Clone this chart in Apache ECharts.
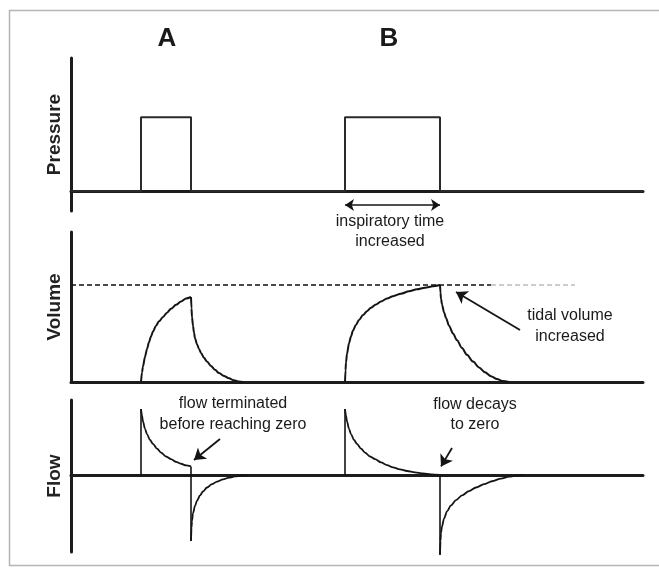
<!DOCTYPE html>
<html>
<head>
<meta charset="utf-8">
<title>Pressure, volume and flow waveforms</title>
<script src="https://cdn.jsdelivr.net/npm/echarts@6/dist/echarts.min.js"></script>
<style>
  html, body { margin: 0; padding: 0; background: #fff; }
  #chart { width: 659px; height: 568px; }
</style>
</head>
<body>
<div id="chart"></div>
<script>
// Panel titles (y-axis names) and breath labels
const panelNames = ['Pressure', 'Volume', 'Flow'];
const breathLabels = ['A', 'B'];

// Time axis (arbitrary seconds)
const timeRange = [0, 5.72];

// Breath timing: start / end of inspiration
const breathA = [0.70, 1.20];
const breathB = [2.74, 3.69];

// Pressure: square pulses (relative units)
const pressureTrace = [
  [0, 0], [0.70, 0], [0.70, 1], [1.20, 1], [1.20, 0],
  [2.74, 0], [2.74, 1], [3.69, 1], [3.69, 0], [5.72, 0]
];

// Volume (relative to the tidal volume of breath B)
const volumeAIn = [
  [0.70, 0], [0.71, 0.10], [0.72, 0.16], [0.74, 0.26], [0.76, 0.34], [0.78, 0.41],
  [0.80, 0.47], [0.82, 0.52], [0.85, 0.58], [0.88, 0.625], [0.92, 0.67],
  [0.96, 0.715], [1.00, 0.755], [1.05, 0.795], [1.10, 0.83], [1.15, 0.86], [1.20, 0.876]
];
const volumeAOut = [
  [1.20, 0.876], [1.205, 0.76], [1.21, 0.67], [1.22, 0.58], [1.23, 0.51],
  [1.24, 0.45], [1.26, 0.39], [1.28, 0.34], [1.30, 0.30], [1.33, 0.25],
  [1.36, 0.21], [1.40, 0.165], [1.44, 0.125], [1.48, 0.092], [1.53, 0.062],
  [1.58, 0.038], [1.63, 0.018], [1.68, 0.005], [1.72, 0]
];
const volumeBIn = [
  [2.74, 0], [2.745, 0.12], [2.75, 0.20], [2.76, 0.29], [2.78, 0.40], [2.80, 0.47],
  [2.82, 0.53], [2.85, 0.59], [2.88, 0.64], [2.92, 0.69], [2.96, 0.73],
  [3.00, 0.765], [3.05, 0.80], [3.10, 0.83], [3.16, 0.86], [3.22, 0.885],
  [3.30, 0.91], [3.38, 0.935], [3.46, 0.955], [3.54, 0.972], [3.62, 0.988], [3.69, 1.0]
];
const volumeBOut = [
  [3.69, 1.0], [3.695, 0.92], [3.70, 0.86], [3.71, 0.80], [3.73, 0.72],
  [3.75, 0.66], [3.78, 0.58], [3.82, 0.50], [3.86, 0.43], [3.91, 0.35],
  [3.96, 0.28], [4.02, 0.21], [4.08, 0.15], [4.14, 0.10], [4.20, 0.06],
  [4.26, 0.03], [4.32, 0.01], [4.38, 0]
];
const tidalVolume = 1.0;

// Flow (relative to peak inspiratory flow)
const flowAIn = [
  [0.70, 1.0], [0.71, 0.90], [0.72, 0.81], [0.74, 0.70], [0.76, 0.62],
  [0.79, 0.53], [0.82, 0.47], [0.86, 0.40], [0.90, 0.34], [0.95, 0.28],
  [1.00, 0.24], [1.05, 0.20], [1.10, 0.17], [1.15, 0.145], [1.20, 0.13]
];
const flowAOut = [
  [1.20, -1.0], [1.205, -0.80], [1.21, -0.70], [1.22, -0.58], [1.24, -0.47],
  [1.26, -0.39], [1.29, -0.31], [1.32, -0.25], [1.36, -0.19], [1.41, -0.14],
  [1.46, -0.10], [1.52, -0.066], [1.58, -0.04], [1.64, -0.022], [1.70, -0.01],
  [1.76, 0]
];
const flowBIn = [
  [2.74, 1.0], [2.75, 0.90], [2.76, 0.81], [2.78, 0.70], [2.80, 0.62],
  [2.83, 0.53], [2.86, 0.47], [2.90, 0.40], [2.94, 0.34], [2.99, 0.28],
  [3.04, 0.24], [3.10, 0.19], [3.16, 0.15], [3.22, 0.115], [3.29, 0.085],
  [3.36, 0.06], [3.44, 0.04], [3.52, 0.022], [3.60, 0.01], [3.69, 0]
];
const flowBOut = [
  [3.69, -1.21], [3.695, -1.0], [3.70, -0.88], [3.71, -0.78], [3.73, -0.66],
  [3.76, -0.55], [3.80, -0.46], [3.85, -0.38], [3.91, -0.31], [3.98, -0.245],
  [4.05, -0.19], [4.13, -0.14], [4.21, -0.095], [4.30, -0.055], [4.38, -0.025],
  [4.46, -0.008], [4.52, 0]
];

// Annotation texts
const noteInspTime = ['inspiratory time', 'increased'];
const noteTidal = ['tidal volume', 'increased'];
const noteFlowA = ['flow terminated', 'before reaching zero'];
const noteFlowB = ['flow decays', 'to zero'];

// ---------------------------------------------------------------
const ink = '#141414';
const axisInk = '#1c1c1c';
const fontFamily = '"Liberation Sans", Arial, Helvetica, sans-serif';

const chart = echarts.init(document.getElementById('chart'), null, { renderer: 'canvas' });

const grids = [
  { left: 71, right: 16, top: 58, height: 153 },
  { left: 71, right: 16, top: 232, height: 150 },
  { left: 71, right: 16, top: 400, height: 152 }
];
const yRanges = [[-0.27, 1.8], [0, 1.546], [-1.167, 1.136]];

const axisLine = { show: true, onZero: true, lineStyle: { color: axisInk, width: 3 } };

const xAxes = grids.map((g, i) => ({
  type: 'value', gridIndex: i, min: timeRange[0], max: timeRange[1],
  axisLine: axisLine, axisTick: { show: false }, axisLabel: { show: false },
  splitLine: { show: false }
}));
const yAxes = grids.map((g, i) => ({
  type: 'value', gridIndex: i, min: yRanges[i][0], max: yRanges[i][1],
  name: panelNames[i], nameLocation: 'middle', nameGap: 7, nameRotate: 90,
  nameTextStyle: { fontFamily: fontFamily, fontWeight: 'bold', fontSize: 19, color: '#222' },
  axisLine: axisLine, axisTick: { show: false }, axisLabel: { show: false },
  splitLine: { show: false }
}));

function trace(data, grid, opts) {
  return Object.assign({
    type: 'line', xAxisIndex: grid, yAxisIndex: grid, data: data,
    symbol: 'none', clip: false, silent: true, animation: false,
    lineStyle: { color: ink, width: 2 }
  }, opts || {});
}
const smooth = { smooth: 0.3, smoothMonotone: 'x' };

function arrow(from, to, both) {
  return {
    silent: true, animation: false,
    symbol: both ? ['arrow', 'arrow'] : ['none', 'arrow'],
    symbolSize: both ? [9, 9] : [11, 11],
    label: { show: false },
    lineStyle: { color: ink, width: both ? 1.6 : 1.8, type: 'solid' },
    data: [[{ coord: from }, { coord: to }]]
  };
}

const series = [
  // Pressure
  trace(pressureTrace, 0, {
    lineStyle: { color: '#2a2a2a', width: 2 },
    markLine: arrow([breathB[0], -0.19], [breathB[1], -0.19], true)
  }),
  // Volume: tidal volume reference line
  trace([[0, tidalVolume], [4.2, tidalVolume]], 1, {
    lineStyle: { color: '#111', width: 1.4, type: [5, 3] }
  }),
  trace([[4.2, tidalVolume], [5.04, tidalVolume]], 1, {
    lineStyle: { color: '#bdbdbd', width: 1.4, type: [5, 3] }
  }),
  trace(volumeAIn, 1, smooth),
  trace(volumeAOut, 1, smooth),
  trace(volumeBIn, 1, smooth),
  trace(volumeBOut, 1, Object.assign({}, smooth, {
    markLine: arrow([4.49, 0.536], [3.85, 0.928], false)
  })),
  // Flow: step edges
  trace([[breathA[0], 0], flowAIn[0]], 2, { lineStyle: { color: ink, width: 1.6 } }),
  trace([flowAIn[flowAIn.length - 1], flowAOut[0]], 2, { lineStyle: { color: ink, width: 1.6 } }),
  trace([[breathB[0], 0], flowBIn[0]], 2, { lineStyle: { color: ink, width: 1.6 } }),
  trace([flowBIn[flowBIn.length - 1], flowBOut[0]], 2, { lineStyle: { color: ink, width: 1.6 } }),
  // Flow: curves
  trace(flowAIn, 2, Object.assign({}, smooth, {
    lineStyle: { color: ink, width: 1.8 },
    markLine: arrow([1.49, 0.545], [1.23, 0.227], false)
  })),
  trace(flowAOut, 2, Object.assign({}, smooth, { lineStyle: { color: ink, width: 1.8 } })),
  trace(flowBIn, 2, Object.assign({}, smooth, {
    lineStyle: { color: ink, width: 1.8 },
    markLine: arrow([3.81, 0.41], [3.70, 0.13], false)
  })),
  trace(flowBOut, 2, Object.assign({}, smooth, { lineStyle: { color: ink, width: 1.8 } }))
];

function note(lines, x, y, size, weight, lh) {
  return {
    type: 'text', x: x, y: y, silent: true, z: 10,
    style: {
      text: lines.join('\n'), fill: '#1a1a1a', fontFamily: fontFamily,
      fontSize: size, fontWeight: weight || 'normal', lineHeight: lh || size,
      textAlign: 'center', textVerticalAlign: 'middle'
    }
  };
}

const graphic = [
  {
    type: 'rect', silent: true, z: -1,
    shape: { x: 9.5, y: 10.5, width: 700, height: 555 },
    style: { fill: 'none', stroke: '#b5b5b5', lineWidth: 1.5 }
  },
  note([breathLabels[0]], 167, 39, 26, 'bold'),
  note([breathLabels[1]], 389, 39, 26, 'bold'),
  note(noteInspTime, 390, 232, 16, 'normal', 20),
  note(noteTidal, 570, 326, 16, 'normal', 21),
  note(noteFlowA, 233, 414, 16, 'normal', 21),
  note(noteFlowB, 475, 415, 16, 'normal', 20)
];

chart.setOption({
  animation: false,
  backgroundColor: '#fff',
  grid: grids,
  xAxis: xAxes,
  yAxis: yAxes,
  series: series,
  graphic: graphic
});
</script>
</body>
</html>
